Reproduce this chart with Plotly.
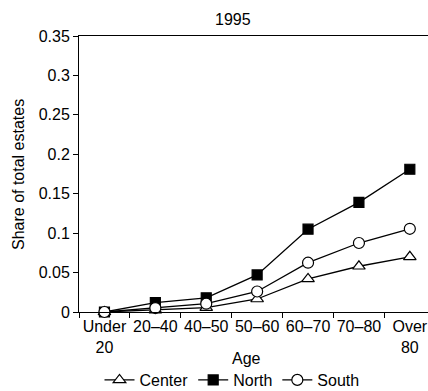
import plotly.graph_objects as go

categories = ["Under<br>20", "20–40", "40–50", "50–60", "60–70", "70–80", "Over<br>80"]
center = [0.0, 0.0025, 0.0055, 0.0165, 0.042, 0.058, 0.070]
north = [0.0, 0.012, 0.018, 0.047, 0.105, 0.139, 0.181]
south = [0.0, 0.005, 0.0105, 0.026, 0.0625, 0.0875, 0.1055]

FONT = "Liberation Sans, Arial, sans-serif"

fig = go.Figure()
series = [
    ("Center", center, "triangle-up", "white", 11),
    ("North", north, "square", "black", 10),
    ("South", south, "circle", "white", 11),
]
for name, vals, sym, fill, sz in series:
    fig.add_trace(go.Scatter(
        x=categories, y=vals, name=name, mode="lines+markers",
        line=dict(color="black", width=1.3),
        marker=dict(symbol=sym, size=sz, color=fill, line=dict(color="black", width=1.2)),
        cliponaxis=False,
    ))

fig.update_layout(
    width=428, height=391,
    margin=dict(l=79, r=0, t=36, b=79, autoexpand=False),
    paper_bgcolor="white", plot_bgcolor="white",
    font=dict(family=FONT, size=16, color="black"),
    showlegend=True,
    legend=dict(orientation="h", x=(232 - 79) / 349, xanchor="center",
                y=-(380 - 312) / 276, yanchor="middle",
                font=dict(size=16), itemwidth=30, tracegroupgap=0,
                bgcolor="rgba(0,0,0,0)"),
    xaxis=dict(type="category", range=[-0.5, 6.357], tickson="boundaries",
               ticks="outside", ticklen=5, tickcolor="black", showgrid=False,
               showline=True, linecolor="black", linewidth=1, mirror=True,
               tickangle=0, tickfont=dict(size=16), zeroline=False),
    yaxis=dict(range=[0, 0.35], tickvals=[0, 0.05, 0.1, 0.15, 0.2, 0.25, 0.3, 0.35],
               ticktext=["0", "0.05", "0.1", "0.15", "0.2", "0.25", "0.3", "0.35"],
               ticks="outside", ticklen=5, tickcolor="black", showgrid=False,
               showline=True, linecolor="black", linewidth=1, zeroline=False,
               tickfont=dict(size=16)),
    annotations=[
        dict(text="1995", xref="paper", yref="paper", x=(233 - 79) / 349, y=1,
             yshift=6, xanchor="center", yanchor="bottom", showarrow=False,
             font=dict(size=16)),
        dict(text="Age", xref="paper", yref="paper", x=(246 - 79) / 349, y=-(358 - 312) / 276,
             xanchor="center", yanchor="middle", showarrow=False, font=dict(size=16)),
        dict(text="Share of total estates", xref="paper", yref="paper",
             x=(18 - 79) / 349, y=0.5, xanchor="center", yanchor="middle",
             textangle=-90, showarrow=False, font=dict(size=16)),
    ],
)

fig.write_html("out.html")
